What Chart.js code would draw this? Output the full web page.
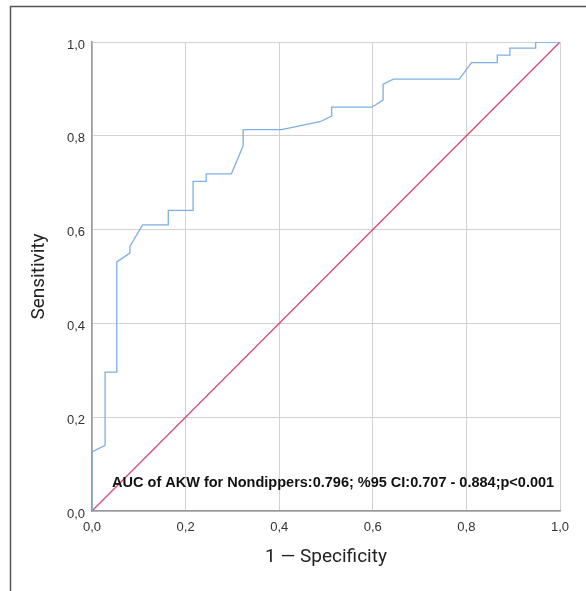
<!DOCTYPE html>
<html>
<head>
<meta charset="utf-8">
<script src="https://cdn.jsdelivr.net/npm/chart.js@4.4.1/dist/chart.umd.min.js"></script>
<style>
  html, body { margin: 0; padding: 0; background: #fff; }
  #wrap { width: 586px; height: 591px; position: relative; }
</style>
</head>
<body>
<div id="wrap"><canvas id="roc"></canvas></div>
<script>
// ROC curve points (1 - specificity, sensitivity)
const fpr = [0, 0, 0.028, 0.028, 0.053, 0.053, 0.081, 0.081, 0.108, 0.163, 0.163, 0.216, 0.216, 0.244, 0.244,
  0.298, 0.323, 0.323, 0.405, 0.487, 0.512, 0.512, 0.598, 0.622, 0.622, 0.644, 0.785, 0.811, 0.866, 0.866,
  0.893, 0.893, 0.948, 0.948, 1.0];
const tpr = [0, 0.126, 0.140, 0.296, 0.296, 0.531, 0.55, 0.564, 0.610, 0.610, 0.641, 0.641, 0.703, 0.703, 0.719,
  0.719, 0.779, 0.813, 0.813, 0.830, 0.842, 0.861, 0.861, 0.876, 0.910, 0.921, 0.921, 0.956, 0.956, 0.972,
  0.972, 0.987, 0.987, 1.0, 1.0];
// reference line
const refX = [0, 1];
const refY = [0, 1];
const tickValues = [0, 0.2, 0.4, 0.6, 0.8, 1.0];

const aucText = "AUC of AKW for Nondippers:0.796; %95 CI:0.707 - 0.884;p<0.001";
const xTitle = "1 \u2014 Specificity";
const yTitle = "Sensitivity";

const condensed = "'Liberation Sans Narrow', 'Arial Narrow', 'Roboto', sans-serif";

// frame lines + AUC label
const extras = {
  id: 'extras',
  afterDatasetsDraw(chart) {
    const ctx = chart.ctx;
    const x = chart.scales.x, y = chart.scales.y;
    ctx.save();
    ctx.font = "bold 14.5px 'Liberation Sans', Arial, sans-serif";
    ctx.fillStyle = '#111';
    ctx.textBaseline = 'middle';
    ctx.textAlign = 'left';
    ctx.fillText(aucText, x.getPixelForValue(0.043), y.getPixelForValue(0.06));
    ctx.restore();
  },
  afterDraw(chart) {
    const ctx = chart.ctx;
    ctx.save();
    ctx.strokeStyle = '#555';
    ctx.lineWidth = 1.5;
    ctx.beginPath();
    ctx.moveTo(10.5, 591);
    ctx.lineTo(10.5, 6.5);
    ctx.lineTo(586, 6.5);
    ctx.stroke();
    ctx.restore();
  }
};

const fmt = v => v.toFixed(1).replace('.', ',');

new Chart(document.getElementById('roc'), {
  type: 'scatter',
  data: {
    datasets: [
      {
        data: fpr.map((v, i) => ({ x: v, y: tpr[i] })),
        showLine: true,
        borderColor: '#7faee3',
        borderWidth: 1.3,
        pointRadius: 0,
        tension: 0
      },
      {
        data: refX.map((v, i) => ({ x: v, y: refY[i] })),
        showLine: true,
        borderColor: '#d64a70',
        borderWidth: 1.3,
        pointRadius: 0
      }
    ]
  },
  options: {
    responsive: true,
    maintainAspectRatio: false,
    animation: false,
    layout: { padding: { left: 10, top: 42, right: 26, bottom: 0 } },
    plugins: { legend: { display: false }, tooltip: { enabled: false } },
    scales: {
      x: {
        type: 'linear', min: 0, max: 1,
        afterBuildTicks: s => { s.ticks = tickValues.map(v => ({ value: v })); },
        afterFit: s => { s.height = 80; },
        grid: { color: '#d2d2d2', drawTicks: false },
        border: { color: '#9a9a9a', width: 1.5 },
        ticks: { callback: fmt, color: '#333', padding: 9, maxRotation: 0,
                 font: { family: "'Liberation Sans', Arial, sans-serif", size: 13 } },
        title: { display: true, text: xTitle, color: '#222',
                 font: { family: condensed, size: 19 }, padding: { top: 0, bottom: 22 } }
      },
      y: {
        type: 'linear', min: 0, max: 1,
        afterBuildTicks: s => { s.ticks = tickValues.map(v => ({ value: v })); },
        afterFit: s => { s.width = 82; },
        grid: { color: '#d2d2d2', drawTicks: false },
        border: { color: '#9a9a9a', width: 1.5 },
        ticks: { callback: fmt, color: '#333', padding: 7, labelOffset: 3,
                 font: { family: "'Liberation Sans', Arial, sans-serif", size: 13 } },
        title: { display: true, text: yTitle, color: '#222',
                 font: { family: condensed, size: 19 }, padding: { top: 18, bottom: 0 } }
      }
    }
  },
  plugins: [extras]
});
</script>
</body>
</html>
